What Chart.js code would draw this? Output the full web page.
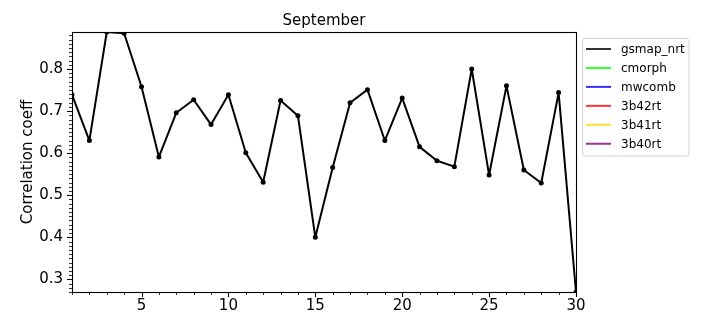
<!DOCTYPE html>
<html>
<head>
<meta charset="utf-8">
<script src="https://cdn.jsdelivr.net/npm/chart.js@4/dist/chart.umd.min.js"></script>
<style>
  html, body { margin: 0; padding: 0; background: #fff; }
</style>
</head>
<body>
<canvas id="corrChart" width="720" height="324"></canvas>
<script>
// day of month
const days = [1, 2, 3, 4, 5, 6, 7, 8, 9, 10, 11, 12, 13, 14, 15,
              16, 17, 18, 19, 20, 21, 22, 23, 24, 25, 26, 27, 28, 29, 30];

// correlation per product (only gsmap_nrt has values this month)
const gsmapNrt = [0.739, 0.630, 0.888, 0.885, 0.758, 0.591, 0.696, 0.727, 0.668, 0.739,
                  0.601, 0.531, 0.725, 0.689, 0.400, 0.566, 0.720, 0.751, 0.630, 0.731,
                  0.615, 0.582, 0.568, 0.800, 0.548, 0.760, 0.560, 0.529, 0.744, 0.270];
const cmorph = [];
const mwcomb = [];
const b42rt = [];
const b41rt = [];
const b40rt = [];

const seriesNames = ['gsmap_nrt', 'cmorph', 'mwcomb', '3b42rt', '3b41rt', '3b40rt'];
const seriesValues = [gsmapNrt, cmorph, mwcomb, b42rt, b41rt, b40rt];
const seriesColors = ['#000000', '#00ff00', '#0000ff', '#ff0000', '#ffd700', '#800080'];

const xTicks = [5, 10, 15, 20, 25, 30];
const yTicks = [0.3, 0.4, 0.5, 0.6, 0.7, 0.8];
const yTickLabels = ['0.3', '0.4', '0.5', '0.6', '0.7', '0.8'];

Chart.defaults.font.family = "'DejaVu Sans', sans-serif";
Chart.defaults.color = '#000';

// spines, major/minor ticks and the matplotlib-like legend box
const mplFrame = {
    id: 'mplFrame',
    afterDraw(chart) {
        const ctx = chart.ctx;
        const area = chart.chartArea;
        const xs = chart.scales.x;
        const ys = chart.scales.y;

        ctx.save();
        ctx.strokeStyle = '#000';

        // x ticks, every day
        for (let d = Math.ceil(xs.min); d <= xs.max; d++) {
            const px = Math.round(xs.getPixelForValue(d)) + 0.5;
            const major = xTicks.includes(d);
            ctx.lineWidth = major ? 1.1 : 0.8;
            ctx.beginPath();
            ctx.moveTo(px, area.bottom);
            ctx.lineTo(px, area.bottom + (major ? 5 : 3));
            ctx.stroke();
        }

        // y ticks, every 0.01
        for (let k = Math.ceil(ys.min * 100); k <= Math.floor(ys.max * 100); k++) {
            const v = k / 100;
            const py = Math.round(ys.getPixelForValue(v)) + 0.5;
            const major = k % 10 === 0;
            ctx.lineWidth = major ? 1.1 : 0.8;
            ctx.beginPath();
            ctx.moveTo(area.left, py);
            ctx.lineTo(area.left - (major ? 5 : 3), py);
            ctx.stroke();
        }

        // spines
        ctx.lineWidth = 1.1;
        ctx.strokeRect(Math.round(area.left) + 0.5, Math.round(area.top) + 0.5,
                       Math.round(area.right - area.left), Math.round(area.bottom - area.top));

        // legend
        const bx = 582.5, by = 38.5, bw = 106.5, bh = 117.5;
        ctx.fillStyle = 'rgba(255,255,255,0.8)';
        ctx.strokeStyle = '#d0d0d0';
        ctx.lineWidth = 1;
        ctx.beginPath();
        ctx.roundRect(bx, by, bw, bh, 3);
        ctx.fill();
        ctx.stroke();

        ctx.font = "12px 'DejaVu Sans'";
        ctx.textBaseline = 'middle';
        ctx.textAlign = 'left';
        chart.data.datasets.forEach((ds, i) => {
            const ry = 49 + i * 18.95;
            ctx.globalAlpha = 0.8;
            ctx.strokeStyle = ds.borderColor;
            ctx.lineWidth = 2;
            ctx.beginPath();
            ctx.moveTo(586, ry);
            ctx.lineTo(611, ry);
            ctx.stroke();
            ctx.globalAlpha = 1;
            ctx.fillStyle = '#000';
            ctx.fillText(ds.label, 621, ry + 1);
        });
        ctx.restore();
    }
};

const ctx = document.getElementById('corrChart').getContext('2d');

new Chart(ctx, {
    type: 'line',
    data: {
        datasets: seriesNames.map((name, i) => ({
            label: name,
            data: seriesValues[i].map((v, j) => ({ x: days[j], y: v })),
            borderColor: seriesColors[i],
            backgroundColor: seriesColors[i],
            borderWidth: 2,
            borderJoinStyle: 'round',
            borderCapStyle: 'round',
            pointRadius: 2.5,
            pointHoverRadius: 2.5,
            pointBorderWidth: 0,
            tension: 0,
            clip: 0
        }))
    },
    options: {
        responsive: false,
        animation: false,
        devicePixelRatio: 1,
        layout: {
            padding: { left: 0, right: 144, top: 0, bottom: 0 }
        },
        plugins: {
            legend: { display: false },
            tooltip: { enabled: false },
            title: {
                display: true,
                text: 'September',
                fullSize: false,
                font: { size: 15, weight: 'normal' },
                color: '#000',
                padding: { top: 12, bottom: 2 }
            }
        },
        scales: {
            x: {
                type: 'linear',
                min: days[0],
                max: days[days.length - 1],
                grid: { display: false, drawTicks: false },
                border: { display: false },
                afterBuildTicks: (scale) => {
                    scale.ticks = xTicks.map(v => ({ value: v }));
                },
                afterFit: (scale) => { scale.height = 32; },
                ticks: {
                    font: { size: 15 },
                    color: '#000',
                    padding: 5,
                    maxRotation: 0,
                    callback: (v) => String(v)
                }
            },
            y: {
                min: 0.270,
                max: 0.888,
                grid: { display: false, drawTicks: false },
                border: { display: false },
                afterBuildTicks: (scale) => {
                    scale.ticks = yTicks.map(v => ({ value: v }));
                },
                afterFit: (scale) => { scale.width = 72; },
                ticks: {
                    font: { size: 15 },
                    color: '#000',
                    padding: 9,
                    callback: (v) => yTickLabels[yTicks.indexOf(v)] ?? ''
                },
                title: {
                    display: true,
                    text: 'Correlation coeff',
                    font: { size: 15 },
                    color: '#000',
                    padding: { top: 19, bottom: 0 }
                }
            }
        }
    },
    plugins: [mplFrame]
});
</script>
</body>
</html>
